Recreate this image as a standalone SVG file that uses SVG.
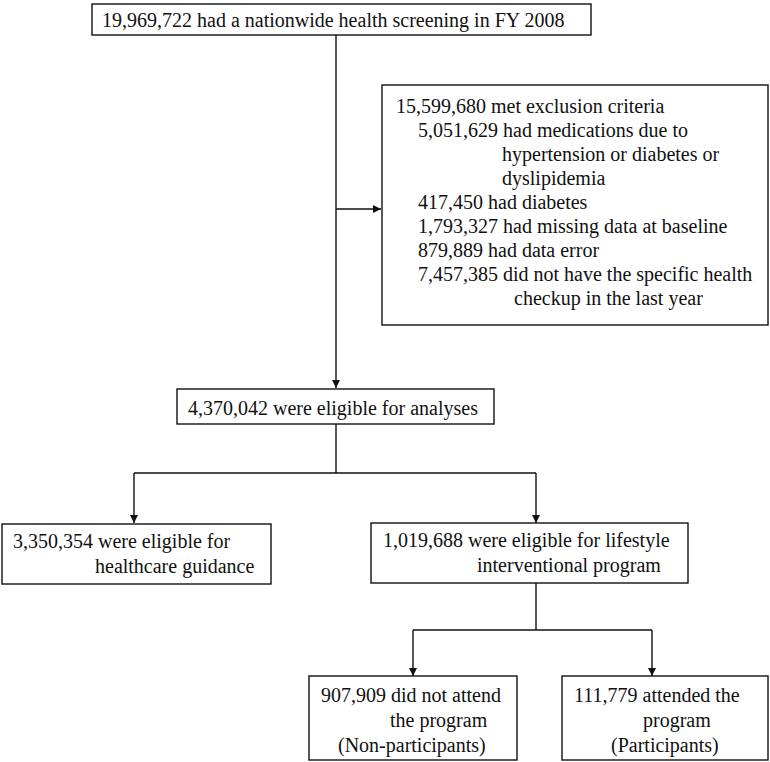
<svg xmlns="http://www.w3.org/2000/svg" width="770" height="762" viewBox="0 0 770 762">
<style>
.box{fill:#fff;stroke:#111;stroke-width:1.4}
.t{font-family:"Liberation Serif","Times New Roman",serif;font-size:20px;fill:#111}
.c{fill:none;stroke:#111;stroke-width:1.4}
</style>
<defs>
<marker id="ah" viewBox="0 0 10 10" refX="10" refY="5" markerWidth="10" markerHeight="8" markerUnits="userSpaceOnUse" orient="auto">
<path d="M0,0 L10,5 L0,10 Z" fill="#111"/>
</marker>
</defs>
<rect width="770" height="762" fill="#fff"/>
<g id="connectors">
<path class="c" d="M336,35 V388" marker-end="url(#ah)"/>
<path class="c" d="M336,209 H381" marker-end="url(#ah)"/>
<path class="c" d="M336,424 V473 M134,473 H536"/>
<path class="c" d="M134,473 V523" marker-end="url(#ah)"/>
<path class="c" d="M536,473 V523" marker-end="url(#ah)"/>
<path class="c" d="M536,583 V630 M413,630 H652"/>
<path class="c" d="M413,630 V676" marker-end="url(#ah)"/>
<path class="c" d="M652,630 V676" marker-end="url(#ah)"/>
</g>
<g id="n1">
<rect class="box" x="92" y="4" width="499" height="31"/>
<text class="t" x="102" y="27">19,969,722 had a nationwide health screening in FY 2008</text>
</g>
<g id="n2">
<rect class="box" x="382" y="85" width="386" height="240"/>
<text class="t" x="396" y="113">15,599,680 met exclusion criteria</text>
<text class="t" x="418" y="137">5,051,629 had medications due to</text>
<text class="t" x="502" y="161">hypertension or diabetes or</text>
<text class="t" x="502" y="185">dyslipidemia</text>
<text class="t" x="418" y="209">417,450 had diabetes</text>
<text class="t" x="418" y="233">1,793,327 had missing data at baseline</text>
<text class="t" x="418" y="257">879,889 had data error</text>
<text class="t" x="418" y="281">7,457,385 did not have the specific health</text>
<text class="t" x="514" y="305">checkup in the last year</text>
</g>
<g id="n3">
<rect class="box" x="177" y="389" width="317" height="35"/>
<text class="t" x="188" y="415">4,370,042 were eligible for analyses</text>
</g>
<g id="n4">
<rect class="box" x="2" y="524" width="269" height="60"/>
<text class="t" x="13" y="548">3,350,354 were eligible for</text>
<text class="t" x="95" y="573">healthcare guidance</text>
</g>
<g id="n5">
<rect class="box" x="371" y="523" width="317" height="60"/>
<text class="t" x="383" y="547">1,019,688 were eligible for lifestyle</text>
<text class="t" x="477" y="572">interventional program</text>
</g>
<g id="n6">
<rect class="box" x="309" y="676" width="208" height="84"/>
<text class="t" x="321" y="702">907,909 did not attend</text>
<text class="t" x="390" y="727">the program</text>
<text class="t" x="338" y="752">(Non-participants)</text>
</g>
<g id="n7">
<rect class="box" x="562" y="676" width="206" height="84"/>
<text class="t" x="574" y="702">111,779 attended the</text>
<text class="t" x="643" y="727">program</text>
<text class="t" x="611" y="752">(Participants)</text>
</g>
</svg>
